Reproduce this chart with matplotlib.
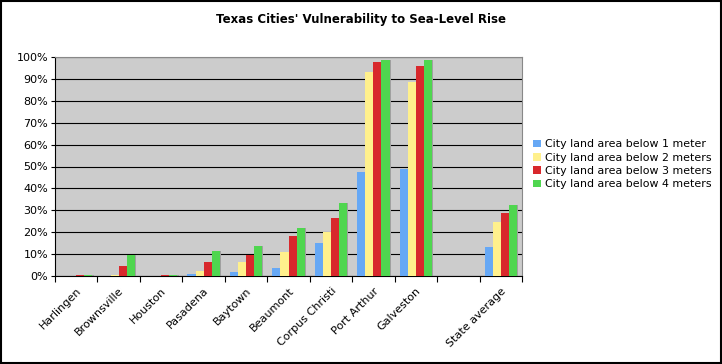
import numpy as np
import matplotlib
matplotlib.use("Agg")
import matplotlib.pyplot as plt
from matplotlib.patches import Rectangle

categories = ["Harlingen", "Brownsville", "Houston", "Pasadena", "Baytown",
              "Beaumont", "Corpus Christi", "Port Arthur", "Galveston", "",
              "State average"]
series_names = ["City land area below 1 meter", "City land area below 2 meters",
                "City land area below 3 meters", "City land area below 4 meters"]
below_1m = [0.0, 0.0, 0.0, 0.9, 2.0, 3.5, 15.0, 47.7, 48.8, np.nan, 13.1]
below_2m = [0.1, 0.3, 0.2, 2.3, 6.4, 10.8, 20.0, 93.1, 88.6, np.nan, 24.7]
below_3m = [0.3, 4.6, 0.3, 6.4, 9.5, 18.1, 26.4, 97.7, 95.9, np.nan, 28.7]
below_4m = [0.6, 9.8, 0.6, 11.6, 13.5, 22.1, 33.5, 98.8, 98.8, np.nan, 32.3]
colors = ["#66a8f5", "#fff08c", "#d8282c", "#4fd64f"]
yticks = [0, 10, 20, 30, 40, 50, 60, 70, 80, 90, 100]

fig = plt.figure(figsize=(7.22, 3.64), dpi=100)
ax = fig.add_axes([55/722, 1-276/364, (522-55)/722, (276-57)/364])
ax.set_facecolor("#cccccc")

x = np.arange(len(categories))
bw = 0.19
for i, vals in enumerate([below_1m, below_2m, below_3m, below_4m]):
    pos = x - 0.38 + bw*i + bw/2
    ax.bar(pos + 0.03, vals, bw, color="#a0a0a0", zorder=2, linewidth=0)
    ax.bar(pos, vals, bw, color=colors[i], zorder=3, linewidth=0, label=series_names[i])

ax.set_xlim(-0.5, len(categories)-0.5)
ax.set_ylim(0, 100)
ax.set_yticks(yticks)
ax.set_yticklabels([f"{v}%" for v in yticks], fontsize=8)
ax.yaxis.grid(True, color="black", linewidth=0.8)
ax.set_axisbelow(True)
ax.set_xticks(np.arange(len(categories)+1) - 0.5, minor=False)
ax.set_xticklabels([])
ax.set_xticks(x, minor=True)
ax.set_xticklabels(categories, minor=True, rotation=45, ha="right",
                   rotation_mode="anchor", fontsize=8)
ax.tick_params(axis="x", which="minor", length=0, pad=7)
ax.tick_params(axis="x", which="major", length=4, direction="out", color="black")
ax.tick_params(axis="y", length=3, color="black", pad=2)
for s in ["top", "right"]:
    ax.spines[s].set_color("#888888")
for s in ["left", "bottom"]:
    ax.spines[s].set_color("black")

fig.text(0.5, 1-20/364, "Texas Cities' Vulnerability to Sea-Level Rise",
         ha="center", va="center", fontsize=8.5, fontweight="bold")

ax.legend(loc="upper left", bbox_to_anchor=(529/722, 1-135/364),
          bbox_transform=fig.transFigure, frameon=False, fontsize=7.9,
          handlelength=0.7, handleheight=0.7, handletextpad=0.4,
          labelspacing=0.3, borderaxespad=0)

fig.patches.append(Rectangle((0.001, 0.002), 0.997, 0.996, transform=fig.transFigure,
                             fill=False, edgecolor="black", linewidth=1.5))
fig.savefig("out.png", dpi=100)
